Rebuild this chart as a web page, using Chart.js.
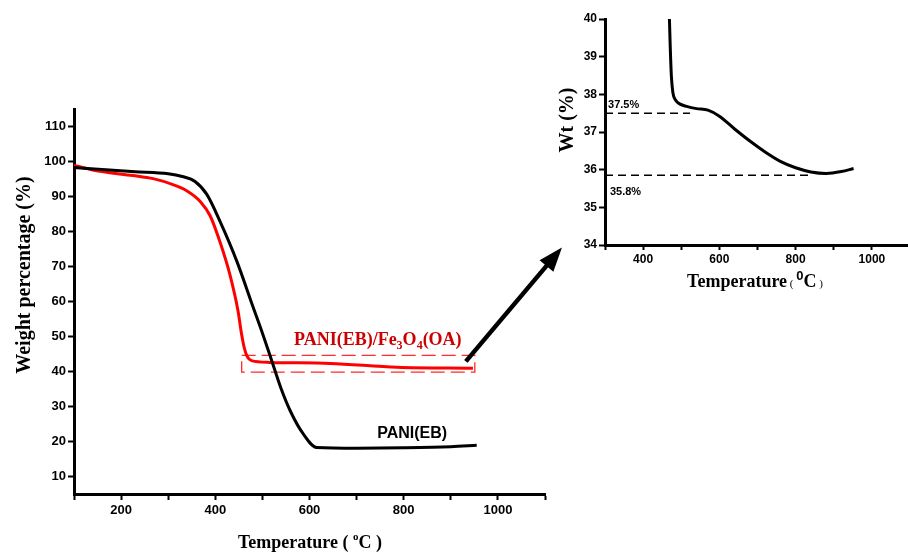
<!DOCTYPE html>
<html>
<head>
<meta charset="utf-8">
<script src="https://cdn.jsdelivr.net/npm/chart.js@4.4.1/dist/chart.umd.min.js"></script>
<style>
  html, body { margin: 0; padding: 0; background: #fff; overflow: hidden; }
  #wrap { position: relative; width: 908px; height: 552px; }
  canvas { position: absolute; top: 0; }
</style>
</head>
<body>
<div id="wrap">
  <canvas id="mainChart" width="908" height="552" style="left:0"></canvas>
  <canvas id="insetChart" width="380" height="300" style="left:540px"></canvas>
</div>
<script>
// main TGA curves
const paniTemp = [100,160,230,300,330,357,382,410,446,480,501,520,540,560,586,615,700,800,900,955];
const paniWeight = [98.3,97.7,97.1,96.5,95.7,94.3,90.6,82.9,71.4,58.5,50.6,43,35,28.5,22.3,18.3,18.1,18.2,18.5,18.9];
const compTemp = [100,155,225,268,310,340,368,389,410,431,448,456,462,468,477,516,644,786,947];
const compWeight = [98.9,97.2,96.0,95.1,93.4,91.6,88.6,84.5,77,67.7,57.5,50.5,46.5,44.2,43.1,42.6,42.3,41.2,40.9];
const mainXLabels = [200,400,600,800,1000];
const mainYLabels = [10,20,30,40,50,60,70,80,90,100,110];

// zoom box + arrow (data coords of the main chart)
const boxTemp = [456,951,951,456,456];
const boxWeight = [44.6,44.6,39.8,39.8,44.6];
const arrowTemp = [932,1136];
const arrowWeight = [42.9,75.4];

// inset curve
const insetTemp = [469,471,474,478,485,497,514,540,570,600,640,680,720,760,800,840,880,920,952];
const insetWeight = [40.0,39.3,38.5,38.05,37.85,37.74,37.68,37.62,37.58,37.42,37.08,36.76,36.47,36.22,36.05,35.94,35.9,35.95,36.03];
const insetXLabels = [400,600,800,1000];
const refLevels = [37.5,35.85];
const refEnds = [523,840];
const refLabels = ['37.5%','35.8%'];

const pts = (xs, ys) => xs.map((x, i) => ({x: x, y: ys[i]}));

function drawRuns(ctx, runs, cx, baseY) {
  let total = 0;
  runs.forEach(r => { ctx.font = r[1]; total += ctx.measureText(r[0]).width; });
  let x = cx - total / 2;
  ctx.textAlign = 'left';
  ctx.textBaseline = 'alphabetic';
  runs.forEach(r => {
    ctx.font = r[1];
    ctx.fillText(r[0], x, baseY + r[2]);
    x += ctx.measureText(r[0]).width;
  });
}

const SERIF = '"Liberation Serif", "Times New Roman", serif';
const SANS = '"Liberation Sans", Arial, sans-serif';

const mainText = {
  id: 'mainText',
  afterDraw(chart) {
    const ctx = chart.ctx, xs = chart.scales.x, ys = chart.scales.y;
    ctx.save();
    ctx.fillStyle = '#000';
    // x title
    drawRuns(ctx, [['Temperature ( ', 'bold 18px ' + SERIF, 0], ['o', 'bold 11px ' + SERIF, -8], ['C )', 'bold 18px ' + SERIF, 0]], 310, 548);
    // y title
    ctx.save();
    ctx.translate(25, 275);
    ctx.rotate(-Math.PI / 2);
    ctx.font = 'bold 20px ' + SERIF;
    ctx.textAlign = 'center';
    ctx.textBaseline = 'middle';
    ctx.fillText('Weight percentage (%)', 0, 0);
    ctx.restore();
    // inset titles (drawn here, page coordinates)
    drawRuns(ctx, [['Temperature', 'bold 18px ' + SERIF, 0], [' ( ', '11px ' + SERIF, 0], ['0', 'bold 13px ' + SANS, -7], ['C', 'bold 18px ' + SERIF, 0], [' )', '11px ' + SERIF, 0]], 755, 287);
    ctx.save();
    ctx.translate(568, 120);
    ctx.rotate(-Math.PI / 2);
    ctx.font = 'bold 20px ' + SERIF;
    ctx.textAlign = 'center';
    ctx.textBaseline = 'middle';
    ctx.fillText('Wt (%)', 0, 0);
    ctx.restore();
    // series labels
    ctx.fillStyle = '#cc0000';
    drawRuns(ctx, [['PANI(EB)/Fe', 'bold 18px ' + SERIF, 0], ['3', 'bold 12px ' + SERIF, 4], ['O', 'bold 18px ' + SERIF, 0], ['4', 'bold 12px ' + SERIF, 4], ['(OA)', 'bold 18px ' + SERIF, 0]],
      xs.getPixelForValue(745), ys.getPixelForValue(49.4) + 6);
    ctx.fillStyle = '#000';
    ctx.font = 'bold 16px ' + SANS;
    ctx.textAlign = 'center';
    ctx.textBaseline = 'alphabetic';
    ctx.fillText('PANI(EB)', xs.getPixelForValue(818), ys.getPixelForValue(22.9) + 7);
    // arrow
    const x0 = xs.getPixelForValue(arrowTemp[0]), y0 = ys.getPixelForValue(arrowWeight[0]);
    const x1 = xs.getPixelForValue(arrowTemp[1]), y1 = ys.getPixelForValue(arrowWeight[1]);
    const a = Math.atan2(y1 - y0, x1 - x0);
    const head = 24, half = 9;
    const bx = x1 - head * Math.cos(a), by = y1 - head * Math.sin(a);
    ctx.strokeStyle = '#000';
    ctx.lineWidth = 4.5;
    ctx.beginPath();
    ctx.moveTo(x0, y0);
    ctx.lineTo(bx + 3 * Math.cos(a), by + 3 * Math.sin(a));
    ctx.stroke();
    ctx.beginPath();
    ctx.moveTo(x1, y1);
    ctx.lineTo(bx + half * Math.sin(a), by - half * Math.cos(a));
    ctx.lineTo(bx - half * Math.sin(a), by + half * Math.cos(a));
    ctx.closePath();
    ctx.fill();
    ctx.restore();
  }
};

const mainChart = new Chart(document.getElementById('mainChart'), {
  type: 'scatter',
  data: {
    datasets: [
      { data: pts(paniTemp, paniWeight), borderColor: '#000', borderWidth: 3, showLine: true, pointRadius: 0, cubicInterpolationMode: 'monotone' },
      { data: pts(compTemp, compWeight), borderColor: '#ff0000', borderWidth: 3, showLine: true, pointRadius: 0, cubicInterpolationMode: 'monotone' },
      { data: pts(boxTemp, boxWeight), borderColor: '#ff2a2a', borderWidth: 1.3, borderDash: [14, 6], showLine: true, pointRadius: 0, tension: 0 }
    ]
  },
  options: {
    responsive: false,
    animation: false,
    events: [],
    layout: { padding: { left: 0, right: 363, top: 109, bottom: 0 } },
    plugins: { legend: { display: false }, tooltip: { enabled: false } },
    scales: {
      x: {
        type: 'linear', min: 100, max: 1100,
        afterFit: s => { s.height = 58; },
        border: { display: true, color: '#000', width: 3 },
        grid: { drawOnChartArea: false, drawTicks: true, tickLength: 6, tickWidth: 2, color: '#000' },
        ticks: {
          stepSize: 100, padding: 3, color: '#000', maxRotation: 0, autoSkip: false,
          font: { family: SANS, size: 13, weight: 'bold' },
          callback: v => mainXLabels.includes(v) ? String(v) : ''
        }
      },
      y: {
        min: 5, max: 115,
        afterFit: s => { s.width = 74; },
        afterBuildTicks: s => { s.ticks = mainYLabels.map(v => ({ value: v })); },
        border: { display: true, color: '#000', width: 3 },
        grid: { drawOnChartArea: false, drawTicks: true, tickLength: 6, tickWidth: 2, color: '#000' },
        ticks: {
          padding: 2, color: '#000', autoSkip: false,
          font: { family: SANS, size: 13, weight: 'bold' },
          callback: v => String(v)
        }
      }
    }
  },
  plugins: [mainText]
});

const insetText = {
  id: 'insetText',
  afterDraw(chart) {
    const ctx = chart.ctx, xs = chart.scales.x, ys = chart.scales.y;
    ctx.save();
    ctx.fillStyle = '#000';
    ctx.font = 'bold 11px ' + SANS;
    ctx.textAlign = 'left';
    ctx.textBaseline = 'alphabetic';
    ctx.fillText(refLabels[0], xs.getPixelForValue(308), ys.getPixelForValue(refLevels[0]) - 5);
    ctx.fillText(refLabels[1], xs.getPixelForValue(313), ys.getPixelForValue(refLevels[1]) + 20);
    ctx.restore();
  }
};

const insetChart = new Chart(document.getElementById('insetChart'), {
  type: 'scatter',
  data: {
    datasets: [
      { data: pts(insetTemp, insetWeight), borderColor: '#000', borderWidth: 3, showLine: true, pointRadius: 0, cubicInterpolationMode: 'monotone' },
      { data: pts([300, refEnds[0]], [refLevels[0], refLevels[0]]), borderColor: '#000', borderWidth: 1.5, borderDash: [8, 5], showLine: true, pointRadius: 0 },
      { data: pts([300, refEnds[1]], [refLevels[1], refLevels[1]]), borderColor: '#000', borderWidth: 1.5, borderDash: [8, 5], showLine: true, pointRadius: 0 }
    ]
  },
  options: {
    responsive: false,
    animation: false,
    events: [],
    layout: { padding: { left: 0, right: 10, top: 19, bottom: 0 } },
    plugins: { legend: { display: false }, tooltip: { enabled: false } },
    scales: {
      x: {
        type: 'linear', min: 300, max: 1100,
        afterFit: s => { s.height = 55; },
        border: { display: true, color: '#000', width: 3 },
        grid: { drawOnChartArea: false, drawTicks: true, tickLength: 5, tickWidth: 2, color: '#000' },
        ticks: {
          stepSize: 100, padding: 2, color: '#000', maxRotation: 0, autoSkip: false,
          font: { family: SANS, size: 12, weight: 'bold' },
          callback: v => insetXLabels.includes(v) ? String(v) : ''
        }
      },
      y: {
        min: 34, max: 40,
        afterFit: s => { s.width = 65; },
        border: { display: true, color: '#000', width: 3 },
        grid: { drawOnChartArea: false, drawTicks: true, tickLength: 6, tickWidth: 2, color: '#000' },
        ticks: {
          stepSize: 1, padding: 2, color: '#000', autoSkip: false,
          font: { family: SANS, size: 12, weight: 'bold' }
        }
      }
    }
  },
  plugins: [insetText]
});
</script>
</body>
</html>
